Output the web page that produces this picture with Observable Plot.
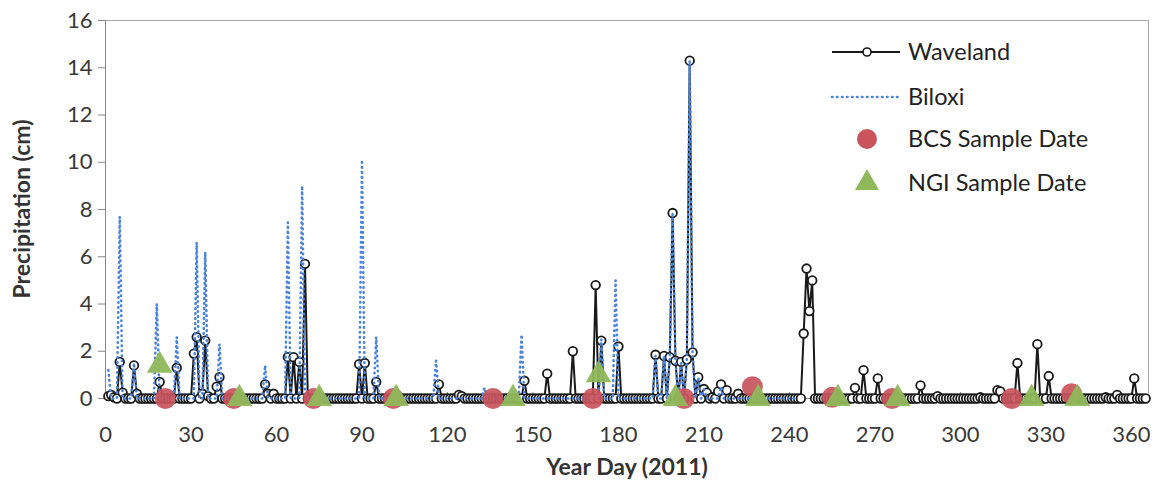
<!DOCTYPE html>
<html>
<head>
<meta charset="utf-8">
<script src="https://cdn.jsdelivr.net/npm/d3@7"></script>
<script src="https://cdn.jsdelivr.net/npm/@observablehq/plot@0.6"></script>
<style>
  html, body { margin: 0; padding: 0; background: #ffffff; }
  #chart { width: 1164px; height: 489px; }
  #chart svg { font-family: Lato, "Open Sans", sans-serif; }
</style>
</head>
<body>
<div id="chart"></div>
<script>
// Daily precipitation (cm), 2011. Days not listed recorded no rain.
const wavelandDays = [1, 2, 3, 5, 6, 10, 11, 19, 25, 31, 32, 34, 35, 36, 39, 40,
  56, 57, 59, 64, 66, 68, 70, 89, 91, 95, 117, 124, 125, 147, 155, 164, 172, 174, 180,
  193, 196, 198, 199, 200, 202, 204, 205, 206, 208, 210, 211, 213, 215, 216, 218, 222,
  245, 246, 247, 248, 263, 266, 271, 286, 292, 307, 313, 314, 320, 327, 331, 351, 355, 361];
const wavelandRain = [0.1, 0.15, 0.05, 1.55, 0.25, 1.4, 0.2, 0.7, 1.3, 1.9, 2.6, 0.2, 2.45, 0.1, 0.5, 0.9,
  0.6, 0.2, 0.2, 1.75, 1.75, 1.55, 5.7, 1.45, 1.5, 0.7, 0.6, 0.15, 0.1, 0.75, 1.05, 2.0, 4.8, 2.45, 2.2,
  1.85, 1.8, 1.75, 7.85, 1.6, 1.55, 1.65, 14.3, 1.95, 0.9, 0.4, 0.25, 0.05, 0.3, 0.6, 0.35, 0.2,
  2.75, 5.5, 3.7, 5.0, 0.45, 1.2, 0.85, 0.55, 0.1, 0.05, 0.35, 0.3, 1.5, 2.3, 0.95, 0.05, 0.15, 0.85];

// Biloxi record runs through day 243.
const biloxiLastDay = 243;
const biloxiDays = [1, 5, 10, 18, 25, 32, 35, 40, 56, 64, 69, 90, 95, 116, 133, 146, 174, 179,
  193, 196, 198, 199, 200, 202, 204, 205, 206, 208, 210, 216];
const biloxiRain = [1.2, 7.7, 1.5, 4.0, 2.6, 6.6, 6.2, 2.3, 1.4, 7.45, 9.0, 10.1, 2.6, 1.6, 0.45, 2.7, 2.5, 5.0,
  1.8, 1.8, 1.7, 7.8, 1.6, 1.5, 1.6, 14.3, 1.9, 0.9, 0.4, 0.5];

// Sampling campaigns
const bcsDays = [21, 45, 73, 101, 136, 171, 203, 227, 255, 276, 318, 339];
const bcsY = [0, 0, 0, 0, 0, 0, 0, 0.5, 0.05, 0, 0, 0.2];
const ngiDays = [19, 47, 75, 102, 143, 173, 200, 229, 257, 278, 325, 341];
const ngiY = [1.4, 0, 0, 0, 0, 1.0, 0, 0, 0, 0, 0, 0];

const xTicks = [0, 30, 60, 90, 120, 150, 180, 210, 240, 270, 300, 330, 360];
const yTicks = [0, 2, 4, 6, 8, 10, 12, 14, 16];

const xTitle = "Year Day (2011)";
const yTitle = "Precipitation (cm)";
const seriesNames = ["Waveland", "Biloxi", "BCS Sample Date", "NGI Sample Date"];
const colors = { waveland: "#1a1a1a", biloxi: "#4a82dc", bcs: "#c9545c", ngi: "#8fb85a" };

// Build daily tables
function daily(days, rain, last) {
  const byDay = new Map(days.map((d, i) => [d, rain[i]]));
  return d3.range(1, last + 1).map(d => ({ day: d, rain: byDay.get(d) ?? 0 }));
}
const waveland = daily(wavelandDays, wavelandRain, 365);
const biloxi = daily(biloxiDays, biloxiRain, biloxiLastDay);
const bcs = bcsDays.map((d, i) => ({ day: d, y: bcsY[i] }));
const ngi = ngiDays.map((d, i) => ({ day: d, y: ngiY[i] }));

const font = "Lato, 'Open Sans', sans-serif";

const plot = Plot.plot({
  width: 1164,
  height: 489,
  marginLeft: 105,
  marginRight: 16,
  marginTop: 20,
  marginBottom: 91,
  style: { fontSize: "22px", fontFamily: font, color: "#3a3a3a" },
  x: { domain: [0, 366] },
  y: { domain: [0, 16] },
  marks: [
    Plot.frame({ stroke: "#a6a6a6", strokeWidth: 1 }),
    Plot.axisY({ ticks: yTicks, tickSize: 7, tickPadding: 6, label: null, stroke: "#888" }),
    Plot.axisX({ ticks: xTicks, tickSize: 0, tickPadding: 28, label: null }),
    Plot.ruleX(xTicks, { x: d => d, y1: 0, y2: 0, insetTop: -6, stroke: "#888" }),
    Plot.ruleY([0], { stroke: "#888" }),
    Plot.ruleX([0], { stroke: "#888" }),
    Plot.text([xTitle], { frameAnchor: "bottom", dy: 76, fontSize: 23, fontWeight: "bold", fill: "#333" }),
    Plot.line(waveland, { x: "day", y: "rain", stroke: colors.waveland, strokeWidth: 2 }),
    Plot.dot(waveland, { x: "day", y: "rain", r: 4.3, fill: "white", stroke: colors.waveland, strokeWidth: 1.8 }),
    Plot.line(biloxi, { x: "day", y: "rain", stroke: colors.biloxi, strokeWidth: 2.6, strokeDasharray: "0.5,4.5", strokeLinecap: "round" }),
    Plot.dot(bcs, { x: "day", y: "y", r: 10.5, fill: colors.bcs, fillOpacity: 0.92 }),
    Plot.dot(ngi, { x: "day", y: "y", symbol: "triangle", r: 9.5, fill: colors.ngi, fillOpacity: 0.95 })
  ]
});
document.getElementById("chart").appendChild(plot);

const svg = d3.select(plot);

// Rotated y-axis title, centred on the plot area
svg.append("text")
  .attr("transform", `translate(22,209) rotate(-90)`)
  .attr("text-anchor", "middle").attr("dy", "0.35em")
  .attr("font-family", font).attr("font-size", 23).attr("font-weight", "bold").attr("fill", "#333")
  .text(yTitle);

// Legend in the upper right of the plot area
const lg = svg.append("g")
  .attr("font-family", font).attr("font-size", 23.5).attr("fill", "#222").attr("text-anchor", "start");
const rowY = [52, 97, 139, 183];
const sx0 = 832, sx1 = 900, sxc = 867, tx = 908;
// Waveland
lg.append("line").attr("x1", sx0).attr("x2", sx1).attr("y1", rowY[0]).attr("y2", rowY[0])
  .attr("stroke", colors.waveland).attr("stroke-width", 2);
lg.append("circle").attr("cx", sxc).attr("cy", rowY[0]).attr("r", 4).attr("fill", "white")
  .attr("stroke", colors.waveland).attr("stroke-width", 1.6);
// Biloxi
lg.append("line").attr("x1", sx0).attr("x2", sx1).attr("y1", rowY[1]).attr("y2", rowY[1])
  .attr("stroke", colors.biloxi).attr("stroke-width", 2.6).attr("stroke-dasharray", "0.5,4.5").attr("stroke-linecap", "round");
// BCS
lg.append("circle").attr("cx", sxc).attr("cy", rowY[2]).attr("r", 10).attr("fill", colors.bcs);
// NGI
lg.append("path").attr("d", d3.symbol(d3.symbolTriangle, 250)()).attr("transform", `translate(${sxc},${rowY[3]})`)
  .attr("fill", colors.ngi);
seriesNames.forEach((name, i) => {
  lg.append("text").attr("x", tx).attr("y", rowY[i]).attr("dy", "0.35em").text(name);
});
</script>
</body>
</html>
